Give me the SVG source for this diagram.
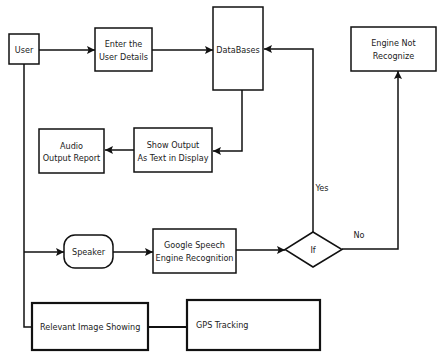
<svg xmlns="http://www.w3.org/2000/svg" width="438" height="354" viewBox="0 0 438 354">
<style>
.box{fill:#fff;stroke:#111;stroke-width:1.5}
.thick{fill:#fff;stroke:#111;stroke-width:2.2}
.ln{fill:none;stroke:#111;stroke-width:1.5}
.lnb{fill:none;stroke:#111;stroke-width:2}
text{font-family:"DejaVu Sans Condensed","DejaVu Sans",sans-serif;font-size:9px;fill:#222;text-anchor:middle;dominant-baseline:central}
.l{text-anchor:start}
</style>
<defs>
<marker id="ah" viewBox="0 0 10 10" refX="10" refY="5" markerWidth="8" markerHeight="8" markerUnits="userSpaceOnUse" orient="auto">
<path d="M0,0 L10,5 L0,10 L2,5 z" fill="#111"/>
</marker>
</defs>
<rect width="438" height="354" fill="#fff"/>
<g id="connectors">
<line class="ln" x1="39" y1="50" x2="95" y2="50" marker-end="url(#ah)"/>
<line class="ln" x1="152" y1="50" x2="213" y2="50" marker-end="url(#ah)"/>
<polyline class="ln" points="242,90 242,151 213,151" marker-end="url(#ah)"/>
<line class="ln" x1="134" y1="150" x2="105" y2="150" marker-end="url(#ah)"/>
<polyline class="ln" points="24,64 24,327 32,327"/>
<line class="ln" x1="24" y1="252" x2="64" y2="252" marker-end="url(#ah)"/>
<line class="ln" x1="113" y1="252" x2="153" y2="252" marker-end="url(#ah)"/>
<line class="ln" x1="236" y1="250" x2="285" y2="250" marker-end="url(#ah)"/>
<polyline class="ln" points="313,232 313,49 264,49" marker-end="url(#ah)"/>
<polyline class="ln" points="342,249 398,249 398,71" marker-end="url(#ah)"/>
<line class="lnb" x1="148" y1="327" x2="187" y2="327"/>
<text x="322" y="188">Yes</text>
<text x="359" y="235">No</text>
</g>
<g id="user"><rect class="box" x="9" y="34" width="30" height="30"/><text x="24" y="50">User</text></g>
<g id="enter"><rect class="box" x="95" y="28" width="57" height="43"/><text x="123.5" y="44">Enter the</text><text x="123.5" y="57">User Details</text></g>
<g id="databases"><rect class="box" x="213" y="7" width="50" height="83"/><text x="238" y="50">DataBases</text></g>
<g id="engine-not"><rect class="box" x="351" y="27" width="85" height="44"/><text x="393.5" y="43">Engine Not</text><text x="393.5" y="56">Recognize</text></g>
<g id="show-output"><rect class="box" x="134" y="128" width="78" height="44"/><text x="173" y="145">Show Output</text><text x="173" y="158">As Text in Display</text></g>
<g id="audio"><rect class="box" x="39" y="129" width="65" height="44"/><text x="71.5" y="146">Audio</text><text x="71.5" y="158">Output Report</text></g>
<g id="speaker"><rect class="box" x="64" y="235" width="49" height="33" rx="11" ry="11"/><text x="88.5" y="252">Speaker</text></g>
<g id="google"><rect class="box" x="153" y="229" width="83" height="44"/><text x="194.5" y="245">Google Speech</text><text x="194.5" y="258">Engine Recognition</text></g>
<g id="if"><polygon class="box" points="313,232 342,249.5 313,267 285,249.5"/><text x="313" y="250">If</text></g>
<g id="relevant"><rect class="thick" x="32" y="303" width="116" height="47"/><text class="l" x="40" y="327">Relevant Image Showing</text></g>
<g id="gps"><rect class="thick" x="187" y="300" width="133" height="50"/><text class="l" x="196" y="325">GPS Tracking</text></g>
</svg>
